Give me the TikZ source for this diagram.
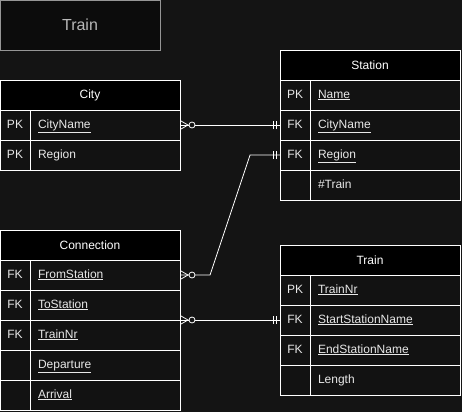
\documentclass[tikz,border=0pt]{standalone}
\usepackage{fontspec}
\setmainfont{Liberation Sans}
\usetikzlibrary{positioning}

\definecolor{bg}{RGB}{20,20,20}
\definecolor{rowfill}{RGB}{18,18,18}
\definecolor{rowtext}{RGB}{232,232,232}
\definecolor{titlefill}{RGB}{12,12,12}
\definecolor{titleline}{RGB}{150,150,150}
\definecolor{titletext}{RGB}{185,185,185}

\begin{document}
\begin{tikzpicture}[x=1pt,y=-1pt,font=\fontsize{12}{14}\selectfont]
\tikzset{
  hdr/.style={draw=white, fill=black, text=white, minimum width=180pt, minimum height=30pt, inner sep=0pt, outer sep=0pt, anchor=north west},
  keycell/.style={draw=white, fill=rowfill, text=rowtext, minimum width=30pt, minimum height=30pt, inner sep=0pt, outer sep=0pt, text height=9pt, text depth=3pt},
  fld/.style={draw=white, fill=rowfill, text=rowtext, minimum width=150pt, minimum height=30pt, inner xsep=8pt, inner ysep=0pt, outer sep=0pt, text width=134pt, align=left, text height=9pt, text depth=3pt},
  title/.style={draw=titleline, fill=titlefill, text=titletext, minimum width=160pt, minimum height=50pt, inner sep=0pt, font=\fontsize{16}{19}\selectfont},
  link/.style={draw=white, line width=0.8pt},
  crowzero/.pic={\draw[white, line width=0.8pt] (1,-4) -- (8,0) -- (1,4); \draw[white, line width=0.8pt, fill=bg] (12,0) circle (3);},
  onlyone/.pic={\draw[white, line width=0.8pt] (4,-4) -- (4,4); \draw[white, line width=0.8pt] (7,-4) -- (7,4);}
}

\fill[bg] (0,0) rectangle (462,412);
\useasboundingbox (0,0) rectangle (462,412);

\node[title] (ttl) at (80,25) {Train};

% City
\node[hdr] (city) at (0,80) {City};
\node[keycell, anchor=north west] (cityname-k) at (city.south west) {PK};
\node[fld, right=0pt of cityname-k] (cityname) {\underline{CityName}};
\node[keycell, below=0pt of cityname-k] (cityregion-k) {PK};
\node[fld, right=0pt of cityregion-k] (cityregion) {Region};

% Station
\node[hdr] (station) at (280,50) {Station};
\node[keycell, anchor=north west] (sta-name-k) at (station.south west) {PK};
\node[fld, right=0pt of sta-name-k] (sta-name) {\underline{Name}};
\node[keycell, below=0pt of sta-name-k] (sta-city-k) {FK};
\node[fld, right=0pt of sta-city-k] (sta-city) {\underline{CityName}};
\node[keycell, below=0pt of sta-city-k] (sta-region-k) {FK};
\node[fld, right=0pt of sta-region-k] (sta-region) {\underline{Region}};
\node[keycell, below=0pt of sta-region-k] (sta-train-k) {};
\node[fld, right=0pt of sta-train-k] (sta-train) {\#Train};

% Connection
\node[hdr] (conn) at (0,230) {Connection};
\node[keycell, anchor=north west] (conn-from-k) at (conn.south west) {FK};
\node[fld, right=0pt of conn-from-k] (conn-from) {\underline{FromStation}};
\node[keycell, below=0pt of conn-from-k] (conn-to-k) {FK};
\node[fld, right=0pt of conn-to-k] (conn-to) {\underline{ToStation}};
\node[keycell, below=0pt of conn-to-k] (conn-nr-k) {FK};
\node[fld, right=0pt of conn-nr-k] (conn-nr) {\underline{TrainNr}};
\node[keycell, below=0pt of conn-nr-k] (conn-dep-k) {};
\node[fld, right=0pt of conn-dep-k] (conn-dep) {\underline{Departure}};
\node[keycell, below=0pt of conn-dep-k] (conn-arr-k) {};
\node[fld, right=0pt of conn-arr-k] (conn-arr) {\underline{Arrival}};

% Train
\node[hdr] (train) at (280,245) {Train};
\node[keycell, anchor=north west] (tr-nr-k) at (train.south west) {PK};
\node[fld, right=0pt of tr-nr-k] (tr-nr) {\underline{TrainNr}};
\node[keycell, below=0pt of tr-nr-k] (tr-start-k) {FK};
\node[fld, right=0pt of tr-start-k] (tr-start) {\underline{StartStationName}};
\node[keycell, below=0pt of tr-start-k] (tr-end-k) {FK};
\node[fld, right=0pt of tr-end-k] (tr-end) {\underline{EndStationName}};
\node[keycell, below=0pt of tr-end-k] (tr-len-k) {};
\node[fld, right=0pt of tr-len-k] (tr-len) {Length};

% relations
\draw[link] (cityname.east) -- (sta-city-k.west);
\draw[link] (conn-from.east) -- ++(30,0) -- ([xshift=-30pt]sta-region-k.west) -- (sta-region-k.west);
\draw[link] (conn-to.south east) -- (tr-start-k.west);

\pic at (cityname.east) {crowzero};
\pic at (conn-from.east) {crowzero};
\pic at (conn-to.south east) {crowzero};
\pic[rotate=180] at (sta-city-k.west) {onlyone};
\pic[rotate=180] at (sta-region-k.west) {onlyone};
\pic[rotate=180] at (tr-start-k.west) {onlyone};
\end{tikzpicture}
\end{document}
